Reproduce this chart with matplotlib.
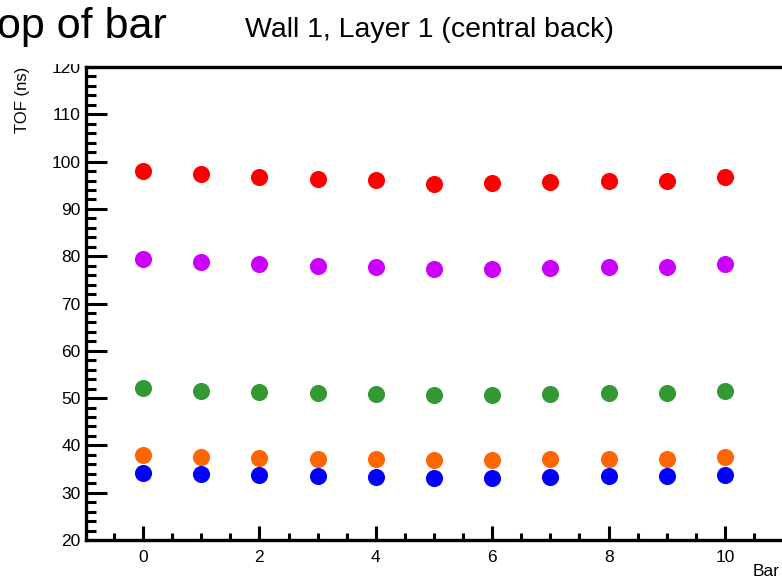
import numpy as np
import matplotlib
matplotlib.use("Agg")
import matplotlib.pyplot as plt
from matplotlib.ticker import MultipleLocator
from matplotlib.patches import Rectangle

plt.rcParams['font.family'] = ['Liberation Sans', 'DejaVu Sans']

# Bar number
bars = list(range(11))

# TOF (ns) per series
tof_red = [98.0, 97.3, 96.7, 96.3, 96.1, 95.3, 95.4, 95.6, 96.0, 96.0, 96.8]
tof_magenta = [79.4, 78.8, 78.3, 78.0, 77.8, 77.2, 77.2, 77.4, 77.7, 77.7, 78.4]
tof_green = [52.1, 51.6, 51.3, 51.1, 50.9, 50.7, 50.7, 50.8, 51.0, 51.0, 51.4]
tof_orange = [38.0, 37.6, 37.4, 37.2, 37.1, 36.9, 36.9, 37.1, 37.1, 37.1, 37.5]
tof_blue = [34.1, 33.9, 33.7, 33.5, 33.4, 33.2, 33.2, 33.4, 33.5, 33.5, 33.8]

series = [
    (tof_red, "#ff0000"),
    (tof_magenta, "#cc00ff"),
    (tof_green, "#339933"),
    (tof_orange, "#ff6600"),
    (tof_blue, "#0000ff"),
]

W, H = 782, 584
fig = plt.figure(figsize=(W / 100, H / 100), dpi=100)

# axes in pixel coordinates: left 86, top 67, bottom 540, runs off the right edge
left, top, bottom, right = 86, 67, 540, 782
ax = fig.add_axes([left / W, 1 - bottom / H, (right - left) / W, (bottom - top) / H])

for vals, col in series:
    ax.plot(bars, vals, 'o', color=col, markersize=12.3, markeredgewidth=0, zorder=3)

ax.set_xlim(-0.98, 10.98)
ax.set_ylim(20, 120)

ax.xaxis.set_major_locator(MultipleLocator(2))
ax.xaxis.set_minor_locator(MultipleLocator(0.5))
ax.yaxis.set_major_locator(MultipleLocator(10))
ax.yaxis.set_minor_locator(MultipleLocator(2))

ax.tick_params(which='both', direction='in', width=2.2, top=False, right=False, labelsize=12.5)
ax.tick_params(axis='x', which='major', length=10, pad=7)
ax.tick_params(axis='x', which='minor', length=5)
ax.tick_params(axis='y', which='major', length=15, pad=4)
ax.tick_params(axis='y', which='minor', length=7.5)

for s in ['left', 'bottom', 'top']:
    ax.spines[s].set_linewidth(2.4)
ax.spines['right'].set_visible(False)

# white strip hiding the top of the "120" label like in the original
fig.patches.append(Rectangle((0, 1 - 63.5 / H), 1, 63.5 / H, transform=fig.transFigure,
                             facecolor='white', edgecolor='none', zorder=1))

fig.text(-3 / W, 1 - 27 / H, "op of bar", fontsize=31,
         ha='left', va='center', zorder=2)
fig.text(245 / W, 1 - 30 / H, "Wall 1, Layer 1 (central back)", fontsize=20.5,
         ha='left', va='center', zorder=2)
fig.text(22 / W, 1 - 67 / H, "TOF (ns)", fontsize=12, rotation=90,
         ha='center', va='top', zorder=2)
fig.text(780 / W, 1 - 571 / H, "Bar", fontsize=12.5, ha='right', va='center', zorder=2)

fig.savefig("out.png", dpi=100)
